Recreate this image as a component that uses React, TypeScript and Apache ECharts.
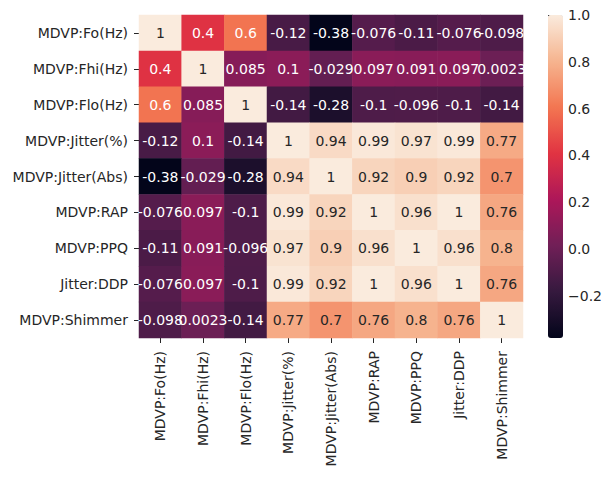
import React, { useEffect, useRef } from "react";
import * as echarts from "echarts";

// Feature names (rows top to bottom, columns left to right)
const features = [
  "MDVP:Fo(Hz)",
  "MDVP:Fhi(Hz)",
  "MDVP:Flo(Hz)",
  "MDVP:Jitter(%)",
  "MDVP:Jitter(Abs)",
  "MDVP:RAP",
  "MDVP:PPQ",
  "Jitter:DDP",
  "MDVP:Shimmer",
];

// Pairwise correlation coefficients, one row per feature
const rowFo = [1, 0.4, 0.6, -0.12, -0.38, -0.076, -0.11, -0.076, -0.098];
const rowFhi = [0.4, 1, 0.085, 0.1, -0.029, 0.097, 0.091, 0.097, 0.0023];
const rowFlo = [0.6, 0.085, 1, -0.14, -0.28, -0.1, -0.096, -0.1, -0.14];
const rowJitterPct = [-0.12, 0.1, -0.14, 1, 0.94, 0.99, 0.97, 0.99, 0.77];
const rowJitterAbs = [-0.38, -0.029, -0.28, 0.94, 1, 0.92, 0.9, 0.92, 0.7];
const rowRAP = [-0.076, 0.097, -0.1, 0.99, 0.92, 1, 0.96, 1, 0.76];
const rowPPQ = [-0.11, 0.091, -0.096, 0.97, 0.9, 0.96, 1, 0.96, 0.8];
const rowDDP = [-0.076, 0.097, -0.1, 0.99, 0.92, 1, 0.96, 1, 0.76];
const rowShimmer = [-0.098, 0.0023, -0.14, 0.77, 0.7, 0.76, 0.8, 0.76, 1];

const matrix = [rowFo, rowFhi, rowFlo, rowJitterPct, rowJitterAbs, rowRAP, rowPPQ, rowDDP, rowShimmer];

// Colour bar scale and ticks
const scaleMin = -0.38;
const scaleMax = 1.0;
const colorbarTicks = [-0.2, 0, 0.2, 0.4, 0.6, 0.8, 1.0];

// "rocket" colormap, evenly spaced stops
const rocket = ["#03051a", "#35193e", "#701f57", "#ad1759", "#e13342", "#f37651", "#f6b48f", "#faebdd"];

const FONT = "DejaVu Sans";
const INK = "#262626";

function hexToRgb(h: string) {
  return [1, 3, 5].map((i) => parseInt(h.slice(i, i + 2), 16));
}

function colorAt(v: number) {
  const t = Math.min(1, Math.max(0, (v - scaleMin) / (scaleMax - scaleMin)));
  const pos = t * (rocket.length - 1);
  const i = Math.min(rocket.length - 2, Math.floor(pos));
  const f = pos - i;
  const a = hexToRgb(rocket[i]);
  const b = hexToRgb(rocket[i + 1]);
  return a.map((c, k) => c + (b[k] - c) * f);
}

function luminance(rgb: number[]) {
  const lin = rgb.map((c) => {
    const s = c / 255;
    return s <= 0.03928 ? s / 12.92 : Math.pow((s + 0.055) / 1.055, 2.4);
  });
  return 0.2126 * lin[0] + 0.7152 * lin[1] + 0.0722 * lin[2];
}

export default function App() {
  const ref = useRef<HTMLDivElement>(null);

  useEffect(() => {
    if (!ref.current) return;
    const chart = echarts.init(ref.current, null, { renderer: "svg" });

    const data: any[] = [];
    matrix.forEach((row, r) => {
      row.forEach((v, c) => {
        const textColor = luminance(colorAt(v)) > 0.408 ? INK : "#ffffff";
        data.push({ value: [c, r, v], label: { color: textColor } });
      });
    });

    chart.setOption({
      animation: false,
      backgroundColor: "#ffffff",
      grid: [
        { left: 139, top: 15, width: 384, height: 323 },
        { left: 548, top: 15, width: 15, height: 323 },
      ],
      xAxis: [
        {
          type: "category",
          data: features,
          gridIndex: 0,
          position: "bottom",
          axisLine: { show: false },
          axisTick: { show: true, alignWithLabel: true, length: 5, lineStyle: { color: INK } },
          axisLabel: { rotate: 90, margin: 13, fontFamily: FONT, fontSize: 14, color: INK, interval: 0 },
          splitLine: { show: false },
        },
        { type: "value", gridIndex: 1, show: false, min: 0, max: 1 },
      ],
      yAxis: [
        {
          type: "category",
          data: features,
          gridIndex: 0,
          inverse: true,
          axisLine: { show: false },
          axisTick: { show: true, alignWithLabel: true, length: 5, lineStyle: { color: INK } },
          axisLabel: { margin: 11, fontFamily: FONT, fontSize: 14, color: INK, interval: 0 },
          splitLine: { show: false },
        },
        {
          type: "value",
          gridIndex: 1,
          position: "right",
          min: scaleMin,
          max: scaleMax,
          axisLine: { show: false },
          axisTick: { show: true, length: 5, customValues: colorbarTicks, lineStyle: { color: INK } },
          axisLabel: {
            margin: 7,
            customValues: colorbarTicks,
            fontFamily: FONT,
            fontSize: 14,
            color: INK,
            formatter: (v: number) => (v < 0 ? "\u2212" + Math.abs(v).toFixed(1) : v.toFixed(1)),
          },
          splitLine: { show: false },
        },
      ],
      visualMap: {
        type: "continuous",
        min: scaleMin,
        max: scaleMax,
        show: true,
        calculable: false,
        hoverLink: false,
        orient: "vertical",
        left: 548,
        top: 15,
        padding: 0,
        itemWidth: 15,
        itemHeight: 323,
        text: ["", ""],
        textGap: 0,
        seriesIndex: 0,
        inRange: { color: rocket },
      },
      series: [
        {
          type: "heatmap",
          xAxisIndex: 0,
          yAxisIndex: 0,
          data,
          label: {
            show: true,
            fontFamily: FONT,
            fontSize: 14,
            formatter: (p: any) => String(p.value[2]),
          },
          itemStyle: { borderWidth: 0 },
          emphasis: { disabled: true },
        },
      ],
    });

    return () => chart.dispose();
  }, []);

  return (
    <div
      ref={ref}
      style={{ position: "absolute", left: 0, top: 0, width: 605, height: 477 }}
    />
  );
}
